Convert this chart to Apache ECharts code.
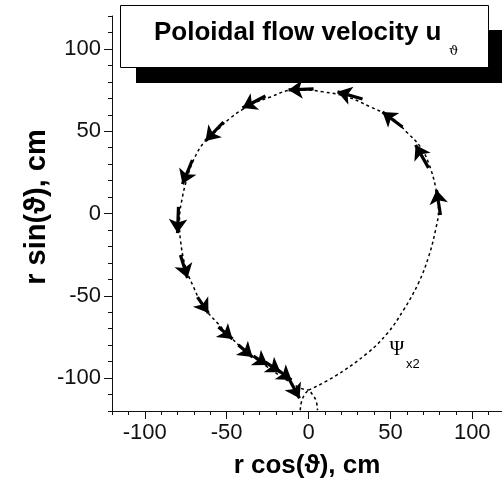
<!DOCTYPE html>
<html><head><meta charset="utf-8">
<script src="https://cdn.jsdelivr.net/npm/echarts@6/dist/echarts.min.js"></script>
<style>html,body{margin:0;padding:0;background:#fff}#c{width:502px;height:481px}</style>
</head><body><div id="c"></div>
<script>
// Separatrix (dotted) loop, counterclockwise from the X-point
const sepX = [0, 15.3, 36.0, 48.3, 58.0, 67.2, 73.3, 77.6, 79.4, 77.6, 73.3, 68.4, 60.5, 50.1, 37.9, 23.8, 9.2, -3.1, -9.2, -23.2, -35.4, -47.6, -55.6, -64.1, -70.2, -73.9, -77.0, -78.8, -78.2, -75.1, -70.2, -64.1, -55.6, -45.8, -35.4, -25.0, -15.3, -4.9, 0];
const sepY = [-107.3, -99.4, -84.8, -72.6, -58.7, -42.2, -26.4, -10.0, 2.1, 16.1, 30.7, 40.4, 48.9, 58.7, 64.7, 70.8, 73.9, 75.1, 75.1, 70.8, 66.0, 58.1, 50.8, 42.9, 32.5, 22.2, 10.0, -4.0, -16.1, -32.5, -44.7, -56.8, -66.6, -76.9, -86.0, -93.3, -100.0, -106.1, -107.3];
// Small legs below the X-point
const legX = [-5.0, -4.3, -2.0, 0, 2.4, 4.8, 5.5];
const legY = [-119.5, -114.5, -109.5, -108.0, -110.0, -114.5, -119.5];
// Flow velocity arrows (tail -> head)
const arrowTailX = [3.1, 33.0, 57.4, 73.3, 80.6, -26.3, -51.9, -70.9, -79.4, -78.2, -67.8, -55.0, -42.8, -33.6, -26.3, -19.5, -12.2];
const arrowTailY = [75.7, 69.6, 52.6, 27.7, -0.9, 71.4, 55.6, 32.5, 4.0, -25.2, -50.8, -69.0, -79.9, -86.6, -90.3, -94.5, -100.0];
const arrowHeadX = [-12.2, 17.7, 45.2, 65.4, 78.2, -40.3, -62.9, -77.0, -80.0, -73.9, -61.1, -46.4, -34.2, -25.0, -17.1, -10.4, -5.5];
const arrowHeadY = [75.1, 73.9, 61.7, 41.6, 14.3, 64.1, 44.1, 17.9, -11.9, -39.2, -60.5, -76.3, -87.2, -92.1, -96.4, -101.2, -112.2];
const majorTicks = [-100, -50, 0, 50, 100];

const sepData = sepX.map((x, i) => [x, sepY[i]]);
const legData = legX.map((x, i) => [x, legY[i]]);
const arrowData = arrowTailX.map((x, i) => ({coords: [[x, arrowTailY[i]], [arrowHeadX[i], arrowHeadY[i]]]}));

const FONT = 'Liberation Sans, Arial, sans-serif';
const axisCommon = {
  type: 'value', min: -120, max: 120, interval: 10,
  splitLine: {show: false},
  axisLine: {show: true, onZero: false, lineStyle: {color: '#111', width: 1}},
  axisTick: {show: true, inside: false, length: 4, lineStyle: {color: '#111', width: 1}},
  axisLabel: {show: true, customValues: majorTicks, fontFamily: FONT, fontSize: 22, color: '#111', margin: 11}
};
const majorAxis = {
  type: 'value', min: -120, max: 120, interval: 10,
  splitLine: {show: false},
  axisLine: {show: false, onZero: false},
  axisTick: {show: true, customValues: majorTicks, length: 8, lineStyle: {color: '#111', width: 1}},
  axisLabel: {show: false}
};

const chart = echarts.init(document.getElementById('c'), null, {renderer: 'canvas'});
chart.setOption({
  animation: false,
  backgroundColor: '#fff',
  grid: {left: 112, top: 16, width: 393, height: 395, containLabel: false, outerBoundsMode: 'none'},
  xAxis: [Object.assign({position: 'bottom'}, axisCommon), Object.assign({position: 'bottom'}, majorAxis)],
  yAxis: [Object.assign({position: 'left'}, axisCommon), Object.assign({position: 'left'}, majorAxis)],
  series: [
    {type: 'line', data: sepData, smooth: 0.4, symbol: 'none', clip: false,
     lineStyle: {color: '#000', width: 1.5, type: [3, 3]}},
    {type: 'line', data: legData, smooth: 0.5, symbol: 'none', clip: false,
     lineStyle: {color: '#000', width: 1.5, type: [3, 3]}},
    {type: 'lines', coordinateSystem: 'cartesian2d', data: arrowData,
     symbol: ['none', 'arrow'], symbolSize: 14,
     lineStyle: {color: '#000', width: 3.2, opacity: 1}}
  ],
  graphic: [
    {type: 'rect', shape: {x: 136, y: 30, width: 380, height: 53}, style: {fill: '#000'}, z: 10},
    {type: 'rect', shape: {x: 120.5, y: 5.5, width: 368, height: 62}, style: {fill: '#fff', stroke: '#000', lineWidth: 1}, z: 11},
    {type: 'text', x: 154, y: 33, z: 12, style: {text: 'Poloidal flow velocity u', font: 'bold 26px ' + FONT, fill: '#000', verticalAlign: 'middle', align: 'left'}},
    {type: 'text', x: 449, y: 52, z: 12, style: {text: 'ϑ', font: '13px DejaVu Serif, serif', fill: '#000', verticalAlign: 'middle', align: 'left'}},
    {type: 'text', x: 37, y: 207, rotation: Math.PI / 2, z: 12, style: {text: 'r sin(ϑ), cm', font: 'bold 29px ' + FONT, fill: '#000', verticalAlign: 'middle', align: 'center'}},
    {type: 'text', x: 307, y: 466, z: 12, style: {text: 'r cos(ϑ), cm', font: 'bold 26px ' + FONT, fill: '#000', verticalAlign: 'middle', align: 'center'}},
    {type: 'text', x: 397, y: 350, z: 12, style: {text: 'Ψ', font: '20px Liberation Serif, serif', fill: '#000', verticalAlign: 'middle', align: 'center'}},
    {type: 'text', x: 406, y: 364, z: 12, style: {text: 'x2', font: '13px ' + FONT, fill: '#000', verticalAlign: 'middle', align: 'left'}}
  ]
});
</script></body></html>
